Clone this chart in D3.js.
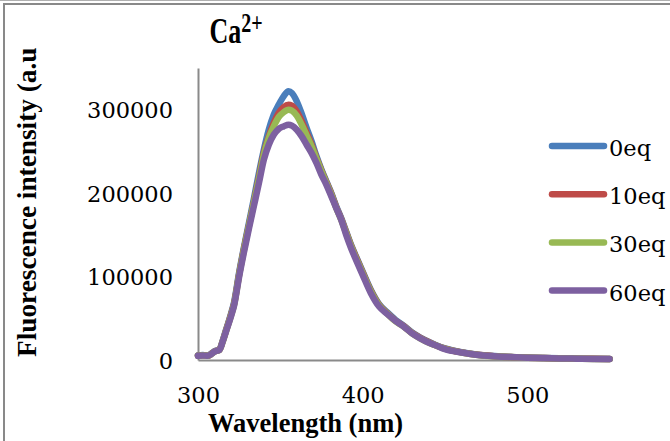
<!DOCTYPE html>
<html>
<head>
<meta charset="utf-8">
<script src="https://cdn.jsdelivr.net/npm/d3@7"></script>
<style>
  html, body { margin: 0; padding: 0; background: #fff; }
  svg { display: block; }
</style>
</head>
<body>
<svg id="chart" width="670" height="441"></svg>
<script>
// ---- data ----
const wavelengths = [300,303,306,308,310,313,315,317,320,322,325,328,331,334,337,340,343,346,349,352,355,357,360,363,366,369,372,375,378,381,384,387,390,393,396,400,405,410,415,420,425,430,435,440,445,450,460,470,480,490,500,510,520,530,540,550];
const eq0  = [5500,6000,5200,7500,10500,12500,23000,36000,55000,70000,105000,136000,165000,194000,224000,252000,276000,294000,306000,316000,322000,320000,310000,295000,278000,262000,244000,228000,214000,200000,184000,170000,154000,138000,124000,106000,84000,67000,57000,48000,41000,33000,27000,22000,17500,14000,9400,6400,4700,3600,2900,2400,2000,1700,1400,1200];
const eq10 = [5200,5800,5000,7200,10200,12200,22500,35000,54000,68000,103000,134000,162000,190000,219000,248000,268000,284000,296000,303000,306000,305000,298000,286000,272000,258000,242000,227000,213000,199000,183000,169000,153000,137000,123000,105000,83000,66000,56000,47000,40500,32500,26500,21500,17200,13700,9200,6200,4600,3500,2800,2300,1900,1600,1400,1200];
const eq30 = [5000,5600,5000,7000,10000,12000,22000,34500,53000,67000,102000,133000,161000,189000,217000,246000,266000,280000,291000,297000,300000,299000,293000,282000,269000,256000,241000,226000,212000,198000,182000,168000,152000,136000,122000,104000,82000,65500,55500,46500,40000,32000,26000,21000,17000,13500,9000,6100,4500,3500,2800,2300,1900,1600,1300,1100];
const eq60 = [5000,5500,5000,7000,10000,12000,22000,34000,52000,66000,100000,130000,158000,185000,212000,240000,258000,270000,277000,280000,282000,281000,276000,268000,258000,248000,236000,222000,210000,196000,182000,168000,150000,134000,120000,102000,80000,64000,55000,47000,40000,32000,26000,21000,17000,13000,9000,6000,4500,3500,2800,2300,1900,1600,1300,1100];
const seriesNames = ["0eq","10eq","30eq","60eq"];
const seriesColors = ["#4A7EBB","#BE4B48","#98B954","#7D60A0"];
const xTicks = [300,400,500];
const yTicks = [0,100000,200000,300000];
const titleMain = "Ca";
const titleSup = "2+";
const xTitle = "Wavelength (nm)";
const yTitle = "Fluorescence intensity (a.u";

const allSeries = [eq0, eq10, eq30, eq60];

// ---- layout ----
const svg = d3.select("#chart");
const x = d3.scaleLinear().domain([300, 550]).range([198, 609.6]);
const y = d3.scaleLinear().domain([0, 350000]).range([360, 68]);

// outer frame
svg.append("line").attr("x1", 0).attr("x2", 670).attr("y1", 0.5).attr("y2", 0.5)
  .attr("stroke", "#b0b0b0").attr("stroke-width", 1);
svg.append("rect").attr("x", 4).attr("y", 4).attr("width", 700).attr("height", 500)
  .attr("fill", "none").attr("stroke", "#898989").attr("stroke-width", 2);

// axes
const yAxis = svg.append("g").attr("transform", "translate(198,0)")
  .call(d3.axisLeft(y).tickValues(yTicks).tickSize(0).tickPadding(25).tickFormat(d3.format("d")));
yAxis.select(".domain").attr("stroke", "#8a8a8a").attr("stroke-width", 2);
yAxis.selectAll("text")
  .attr("font-family", "'DejaVu Serif', serif").attr("font-size", 22.5)
  .attr("fill", "#000").attr("dy", "0.36em");

const xAxis = svg.append("g").attr("transform", "translate(0,360)")
  .call(d3.axisBottom(x).tickValues(xTicks).tickSize(0).tickPadding(0).tickFormat(d3.format("d")));
xAxis.select(".domain").attr("stroke", "#8a8a8a").attr("stroke-width", 2);
xAxis.selectAll("text")
  .attr("font-family", "'DejaVu Serif', serif").attr("font-size", 22.5)
  .attr("fill", "#000").attr("y", 43).attr("dy", 0);

// lines
const line = d3.line()
  .x((d, i) => x(wavelengths[i]))
  .y(d => y(d))
  .curve(d3.curveMonotoneX);

allSeries.forEach((s, k) => {
  svg.append("path").datum(s)
    .attr("d", line)
    .attr("fill", "none")
    .attr("stroke", seriesColors[k])
    .attr("stroke-width", 6.5)
    .attr("stroke-linejoin", "round")
    .attr("stroke-linecap", "round");
});

// legend
const legend = svg.append("g");
seriesNames.forEach((name, k) => {
  const ly = 146 + k * 48.2;
  legend.append("line").attr("x1", 552).attr("x2", 604).attr("y1", ly).attr("y2", ly)
    .attr("stroke", seriesColors[k]).attr("stroke-width", 6.5).attr("stroke-linecap", "round");
  legend.append("text").attr("x", 609).attr("y", ly + 10)
    .attr("font-family", "'DejaVu Serif', serif").attr("font-size", 22.5)
    .attr("fill", "#000").text(name);
});

// title
const title = svg.append("text")
  .attr("transform", "translate(236,43) scale(1,1.35)")
  .attr("text-anchor", "middle")
  .attr("font-family", "'Liberation Serif', serif").attr("font-weight", "bold")
  .attr("font-size", 26).attr("fill", "#000");
title.append("tspan").text(titleMain);
title.append("tspan").attr("font-size", 20).attr("dy", -8).text(titleSup);

// axis titles
svg.append("text")
  .attr("x", 305.5).attr("y", 432)
  .attr("text-anchor", "middle")
  .attr("font-family", "'Liberation Serif', serif").attr("font-weight", "bold")
  .attr("font-size", 26.5).attr("fill", "#000")
  .text(xTitle);

svg.append("text")
  .attr("transform", "translate(36,357) rotate(-90) scale(1.03,1)")
  .attr("text-anchor", "start")
  .attr("font-family", "'Liberation Serif', serif").attr("font-weight", "bold")
  .attr("font-size", 26.5).attr("fill", "#000")
  .text(yTitle);
</script>
</body>
</html>
